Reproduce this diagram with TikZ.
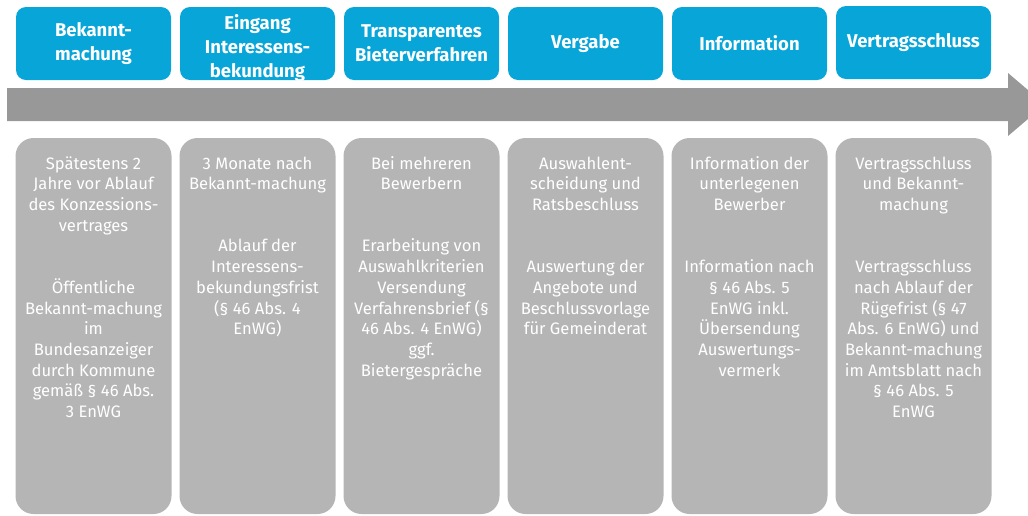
\documentclass[tikz,border=0pt]{standalone}
\usepackage{fontspec}
\setmainfont{Fira Sans}
\definecolor{topblue}{RGB}{8,165,217}
\definecolor{bandgray}{RGB}{152,152,152}
\definecolor{boxgray}{RGB}{181,181,181}
\tikzset{
  phase/.style={fill=topblue, rounded corners=10pt, minimum width=155pt, minimum height=73pt,
    inner sep=0pt, text=white, align=center, font=\bfseries\fontsize{18.5}{24}\selectfont},
  phasetext/.style={inner sep=0pt, text=white, align=center, font=\bfseries\fontsize{18.5}{24}\selectfont},
  detailbox/.style={fill=boxgray, rounded corners=18pt, minimum width=156pt, minimum height=376pt, inner sep=0pt},
  detailtext/.style={anchor=north, inner sep=0pt, text=white, align=center, font=\fontsize{16.6}{20.7}\selectfont}
}
\newcommand{\pgap}{\\[41.4pt]}
\begin{document}
\begin{tikzpicture}[x=1pt,y=-1pt]
\useasboundingbox (0,0) rectangle (1028,515);
% arrow band
\fill[bandgray] (7,88) -- (1008,88) -- (1008,73) -- (1045,104.5) -- (1008,136) -- (1008,121) -- (7,121) -- cycle;
% top phases
\node[phase] (p1) at (93.5,43.5) {Bekannt-\\machung};
\node[phase] (p2) at (257.5,43.5) {};
\node[phasetext] (p2t) at (257.5,48.5) {Eingang\\Interessens-\\bekundung};
\node[phase] (p3) at (421.5,43.5) {Transparentes\\Bieterverfahren};
\node[phase] (p4) at (585.5,43.5) {Vergabe};
\node[phase] (p5) at (749.5,43.5) {Information};
\node[phase] (p6) at (913.5,42.5) {Vertragsschluss};
% detail boxes
\foreach \i/\x in {1/93.5,2/257.5,3/421.5,4/585.5,5/749.5,6/913.5}{
  \node[detailbox] (b\i) at (\x,326) {};
}
\node[detailtext] (t1) at (93.5,154.5) {\strut Spätestens 2\\Jahre vor Ablauf\\des Konzessions-\\vertrages\pgap Öffentliche\\Bekannt-machung\\im\\Bundesanzeiger\\durch Kommune\\gemäß § 46 Abs.\\3 EnWG};
\node[detailtext] (t2) at (257.5,154.5) {\strut 3 Monate nach\\Bekannt-machung\pgap Ablauf der\\Interessens-\\bekundungsfrist\\(§ 46 Abs. 4\\EnWG)};
\node[detailtext] (t3) at (421.5,154.5) {\strut Bei mehreren\\Bewerbern\pgap Erarbeitung von\\Auswahlkriterien\\Versendung\\Verfahrensbrief (§\\46 Abs. 4 EnWG)\\ggf.\\Bietergespräche};
\node[detailtext] (t4) at (585.5,154.5) {\strut Auswahlent-\\scheidung und\\Ratsbeschluss\pgap Auswertung der\\Angebote und\\Beschlussvorlage\\für Gemeinderat};
\node[detailtext] (t5) at (749.5,154.5) {\strut Information der\\unterlegenen\\Bewerber\pgap Information nach\\§ 46 Abs. 5\\EnWG inkl.\\Übersendung\\Auswertungs-\\vermerk};
\node[detailtext] (t6) at (913.5,154.5) {\strut Vertragsschluss\\und Bekannt-\\machung\pgap Vertragsschluss\\nach Ablauf der\\Rügefrist (§ 47\\Abs. 6 EnWG) und\\Bekannt-machung\\im Amtsblatt nach\\§ 46 Abs. 5\\EnWG};
\end{tikzpicture}
\end{document}
